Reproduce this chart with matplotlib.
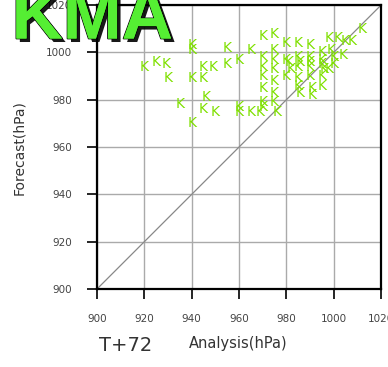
import matplotlib
matplotlib.use("Agg")
import matplotlib.pyplot as plt
import matplotlib.patheffects as pe

analysis = [920, 925, 929, 930, 935, 940, 940, 940, 940, 945, 945, 946, 945, 949, 950,
            955, 955, 960, 960, 960, 965, 965,
            970, 970, 970, 970, 970, 970, 970, 969,
            975, 975, 975, 975, 975, 975, 975, 976,
            980, 980, 981, 982, 980,
            985, 985, 986, 985, 985, 985, 986,
            990, 990, 990, 990, 990, 991, 991,
            995, 995, 995, 996, 995, 995,
            998, 999, 1000, 1000, 998,
            1002, 1005, 1008, 1004, 1012]
forecast = [994, 996, 995, 989, 978, 1003, 1001, 989, 970, 994, 989, 981, 976, 994, 975,
            1002, 995, 997, 977, 975, 1001, 975,
            1007, 998, 994, 990, 985, 979, 977, 975,
            1008, 1001, 997, 993, 988, 983, 979, 975,
            1004, 997, 996, 993, 990,
            1004, 998, 996, 994, 989, 986, 983,
            1003, 998, 996, 994, 990, 985, 982,
            1000, 997, 995, 993, 990, 986,
            1006, 1001, 998, 995, 993,
            1006, 1005, 1005, 999, 1010]
ticks = [900, 920, 940, 960, 980, 1000, 1020]

fig = plt.figure(figsize=(3.88, 3.67), dpi=100)
ax = fig.add_axes([0.25, 0.2125, 0.732, 0.7735])
ax.set_xlim(900, 1020)
ax.set_ylim(900, 1020)
ax.set_xticks(ticks)
ax.set_yticks(ticks)
ax.grid(True, color='#aaaaaa', linewidth=1.0)
ax.set_axisbelow(True)
ax.plot([900, 1020], [900, 1020], color='#888888', linewidth=0.9, zorder=2)
for x, y in zip(analysis, forecast):
    ax.text(x, y, 'K', color='#7fe000', fontsize=10, ha='center', va='center',
            zorder=3, clip_on=False)
for s in ax.spines.values():
    s.set_linewidth(1.6)
ax.tick_params(direction='out', length=7, width=1.2, pad=11, labelsize=7.5,
               labelcolor='#444444')
ax.set_ylabel('Forecast(hPa)', fontsize=10, color='#333333', labelpad=14)
fig.text(0.613, 0.065, 'Analysis(hPa)', fontsize=10.5, color='#333333', ha='center', va='center')
fig.text(0.325, 0.058, 'T+72', fontsize=14, color='#333333', ha='center', va='center')
fig.text(0.03, 0.895, 'KMA', fontsize=51, fontweight='bold', family='Liberation Sans',
         color='#55ee33', ha='left', va='baseline', zorder=10,
         path_effects=[pe.withSimplePatchShadow(offset=(2.5, -2.5), shadow_rgbFace='black', alpha=0.9),
                       pe.withStroke(linewidth=1.2, foreground='black'), pe.Normal()])
fig.savefig('out.png', dpi=100)
